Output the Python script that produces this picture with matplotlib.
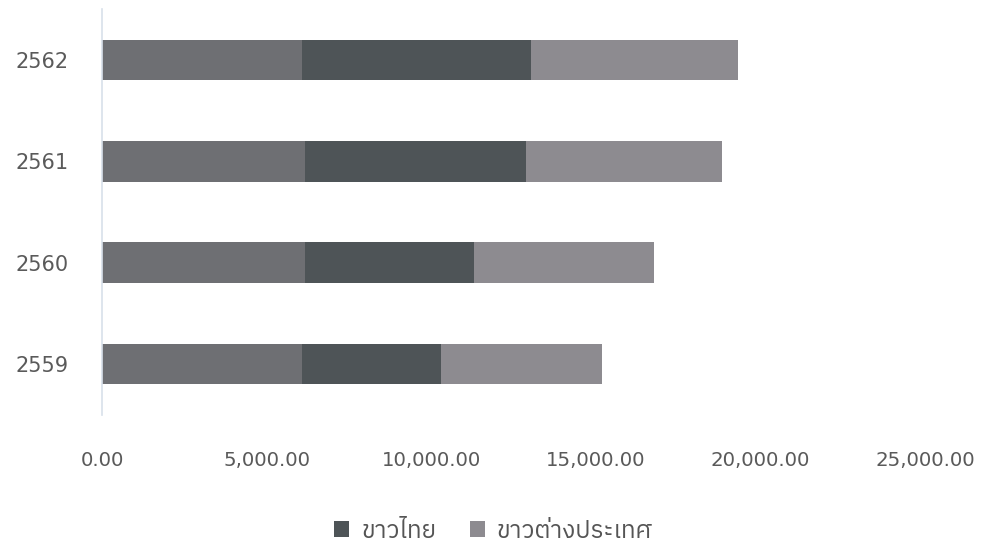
import matplotlib
matplotlib.use("Agg")
import matplotlib.pyplot as plt
from matplotlib import font_manager
from matplotlib.ticker import FuncFormatter

# values
years = ["2559", "2560", "2561", "2562"]
base = [6075, 6166, 6166, 6075]          # first segment (no legend entry)
thai = [4223, 5134, 6714, 6957]          # ขาวไทย
foreign = [4891, 5468, 5954, 6288]       # ขาวต่างประเทศ
labels = ["ขาวไทย", "ขาวต่างประเทศ"]
xticks = [0, 5000, 10000, 15000, 20000, 25000]

# look for any font that can draw Thai
thai_fonts = sorted({f.name for f in font_manager.fontManager.ttflist
                     if "thai" in f.name.lower() or "garuda" in f.name.lower()
                     or "loma" in f.name.lower() or "sarabun" in f.name.lower()})
plt.rcParams["font.family"] = ["DejaVu Sans"] + thai_fonts + ["Noto Sans"]

fig = plt.figure(figsize=(9.81, 5.48), dpi=100)
ax = fig.add_axes([0.104, 0.243, 0.839, 0.740])

ypos = list(range(len(years)))
h = 0.4
left2 = [a + b for a, b in zip(base, thai)]
ax.barh(ypos, base, height=h, color="#6e6f73")
ax.barh(ypos, thai, left=base, height=h, color="#4e5457", label=labels[0])
ax.barh(ypos, foreign, left=left2, height=h, color="#8d8b90", label=labels[1])

ax.set_xlim(0, 25000)
ax.set_ylim(-0.5, 3.5)
ax.set_xticks(xticks)
ax.xaxis.set_major_formatter(FuncFormatter(lambda v, p: "{:,.2f}".format(v)))
ax.set_yticks(ypos)
ax.set_yticklabels(years)
ax.tick_params(axis="x", length=0, pad=26, labelsize=14.2, labelcolor="#5a5a5a")
ax.tick_params(axis="y", length=0, pad=24, labelsize=15, labelcolor="#5a5a5a")

for s in ["top", "right", "bottom"]:
    ax.spines[s].set_visible(False)
ax.spines["left"].set_color("#d8e0ea")
ax.spines["left"].set_linewidth(1.2)

fig.legend(loc="lower center", bbox_to_anchor=(0.503, -0.03), ncol=2, frameon=False,
           fontsize=17.5, handlelength=0.6, handleheight=0.6, columnspacing=1.4,
           handletextpad=0.5, labelcolor="#555555")

fig.savefig("out.png", dpi=100)
